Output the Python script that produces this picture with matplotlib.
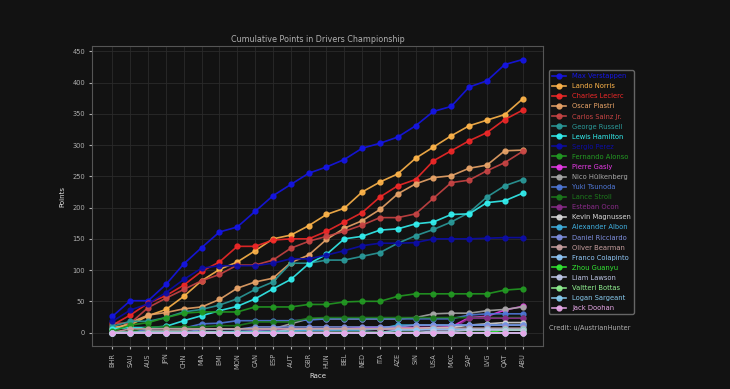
import matplotlib
matplotlib.use("Agg")
import matplotlib.pyplot as plt

races = ["BHR", "SAU", "AUS", "JPN", "CHN", "MIA", "EMI", "MON", "CAN", "ESP", "AUT", "GBR",
         "HUN", "BEL", "NED", "ITA", "AZE", "SIN", "USA", "MXC", "SAP", "LVG", "QAT", "ABU"]

verstappen = [26, 51, 51, 77, 110, 136, 161, 169, 194, 219, 237, 255, 265, 277, 295, 303, 313, 331, 354, 362, 393, 403, 429, 437]
norris     = [8, 12, 27, 37, 58, 83, 101, 113, 131, 150, 156, 171, 189, 199, 225, 241, 254, 279, 297, 315, 331, 340, 349, 374]
leclerc    = [12, 28, 47, 59, 76, 98, 113, 138, 138, 148, 150, 150, 162, 177, 192, 217, 235, 245, 275, 291, 307, 320, 341, 356]
piastri    = [4, 16, 28, 32, 38, 41, 53, 71, 81, 87, 112, 124, 149, 167, 179, 197, 222, 238, 248, 251, 263, 268, 291, 292]
sainz      = [15, 15, 40, 55, 69, 83, 93, 108, 108, 116, 135, 146, 154, 162, 172, 184, 184, 190, 215, 240, 244, 259, 272, 290]
russell    = [10, 18, 18, 24, 33, 37, 44, 54, 69, 81, 111, 111, 116, 116, 122, 128, 143, 155, 165, 177, 192, 217, 235, 245]
hamilton   = [6, 8, 8, 10, 19, 27, 35, 42, 54, 70, 85, 110, 125, 150, 154, 164, 166, 174, 177, 189, 190, 208, 211, 223]
perez      = [18, 36, 46, 64, 85, 103, 107, 107, 107, 111, 118, 118, 124, 131, 139, 143, 143, 144, 150, 150, 150, 151, 152, 152]
alonso     = [2, 12, 16, 24, 31, 33, 33, 33, 41, 41, 41, 45, 45, 49, 50, 50, 58, 62, 62, 62, 62, 62, 68, 70]
gasly      = [0, 0, 0, 0, 0, 0, 0, 1, 3, 6, 6, 6, 6, 6, 8, 8, 8, 8, 8, 9, 24, 26, 36, 42]
hulkenberg = [0, 1, 3, 3, 4, 6, 6, 6, 6, 6, 14, 22, 22, 22, 22, 22, 22, 24, 30, 31, 31, 35, 37, 41]
tsunoda    = [0, 0, 6, 7, 7, 14, 15, 19, 19, 19, 19, 20, 22, 22, 22, 22, 22, 22, 22, 22, 28, 30, 30, 30]
stroll     = [1, 1, 9, 9, 9, 9, 11, 11, 17, 17, 17, 23, 24, 24, 24, 24, 24, 24, 24, 24, 24, 24, 24, 24]
ocon       = [0, 0, 0, 0, 0, 0, 0, 0, 1, 3, 3, 3, 3, 5, 5, 5, 5, 5, 5, 5, 23, 23, 23, 23]
magnussen  = [0, 0, 1, 1, 1, 1, 1, 1, 1, 1, 5, 5, 5, 5, 5, 6, 6, 6, 8, 8, 12, 14, 16, 16]
albon      = [0, 0, 0, 0, 0, 0, 0, 2, 2, 2, 2, 4, 4, 4, 4, 6, 12, 12, 12, 12, 12, 12, 12, 12]
ricciardo  = [0, 0, 0, 0, 0, 5, 5, 5, 9, 9, 9, 9, 9, 9, 9, 9, 9, 12, 12, 12, 12, 12, 12, 12]
bearman    = [0, 6, 6, 6, 6, 6, 6, 6, 6, 6, 6, 6, 6, 6, 6, 6, 7, 7, 7, 7, 7, 7, 7, 7]
colapinto  = [0, 0, 0, 0, 0, 0, 0, 0, 0, 0, 0, 0, 0, 0, 0, 0, 4, 4, 5, 5, 5, 5, 5, 5]
zhou       = [0, 0, 0, 0, 0, 0, 0, 0, 0, 0, 0, 0, 0, 0, 0, 0, 0, 0, 0, 0, 0, 0, 4, 4]
lawson     = [0, 0, 0, 0, 0, 0, 0, 0, 0, 0, 0, 0, 0, 0, 0, 0, 0, 0, 2, 2, 4, 4, 4, 4]
bottas     = [0] * 24
sargeant   = [0] * 24
doohan     = [0] * 24

drivers = [
    ("Max Verstappen",    verstappen, "#1515e6"),
    ("Lando Norris",      norris,     "#ffb54a"),
    ("Charles Leclerc",   leclerc,    "#f02828"),
    ("Oscar Piastri",     piastri,    "#e9a468"),
    ("Carlos Sainz Jr.",  sainz,      "#c84444"),
    ("George Russell",    russell,    "#2a9a9a"),
    ("Lewis Hamilton",    hamilton,   "#33f0f0"),
    ("Sergio Perez",      perez,      "#0c0ca8"),
    ("Fernando Alonso",   alonso,     "#229a22"),
    ("Pierre Gasly",      gasly,      "#e83ae8"),
    ("Nico Hülkenberg",   hulkenberg, "#a8a8a8"),
    ("Yuki Tsunoda",      tsunoda,    "#4f78d8"),
    ("Lance Stroll",      stroll,     "#1c7a1c"),
    ("Esteban Ocon",      ocon,       "#8a2a8a"),
    ("Kevin Magnussen",   magnussen,  "#d8d8d8"),
    ("Alexander Albon",   albon,      "#40b0e0"),
    ("Daniel Ricciardo",  ricciardo,  "#7f90e0"),
    ("Oliver Bearman",    bearman,    "#c8a0a0"),
    ("Franco Colapinto",  colapinto,  "#90c8f8"),
    ("Zhou Guanyu",       zhou,       "#33e833"),
    ("Liam Lawson",       lawson,     "#c0c8e8"),
    ("Valtteri Bottas",   bottas,     "#90f090"),
    ("Logan Sargeant",    sargeant,   "#88ccf0"),
    ("Jack Doohan",       doohan,     "#e8a8e8"),
]

BG = "#121212"
TXT = "#b0b0b0"

fig = plt.figure(figsize=(7.3, 3.89), dpi=100)
fig.patch.set_facecolor(BG)
ax = fig.add_axes([0.126, 0.11, 0.618, 0.772])
ax.set_facecolor(BG)

x = list(range(len(races)))
for name, pts, color in drivers:
    ax.plot(x, pts, color=color, marker="o", markersize=3.5, linewidth=1.2,
            alpha=0.9, label=name)

ax.set_xticks(x)
ax.set_xticklabels(races, rotation=90)
ax.set_yticks(range(0, 451, 50))
ax.tick_params(colors=TXT, labelsize=4.8, length=2.5, pad=2.5)
for spine in ax.spines.values():
    spine.set_edgecolor("#555555")
ax.grid(True, color="#2a2a2a", linewidth=0.6)
ax.set_axisbelow(True)
ax.set_xlabel("Race", color="#e0e0e0", fontsize=5, labelpad=3)
ax.set_ylabel("Points", color="#e0e0e0", fontsize=5, labelpad=5)
ax.set_title("Cumulative Points in Drivers Championship", color=TXT, fontsize=5.8, pad=3)

leg = ax.legend(loc="center left", bbox_to_anchor=(1.005, 0.513), fontsize=4.9,
                facecolor=BG, edgecolor="#666666", framealpha=1.0,
                handlelength=2.2, labelspacing=0.6, borderpad=0.4)
for text, (_, _, color) in zip(leg.get_texts(), drivers):
    text.set_color(color)

fig.text(0.752, 0.152, "Credit: u/AustrianHunter", color=TXT, fontsize=4.8)

fig.savefig("out.png", dpi=100, facecolor=BG)
